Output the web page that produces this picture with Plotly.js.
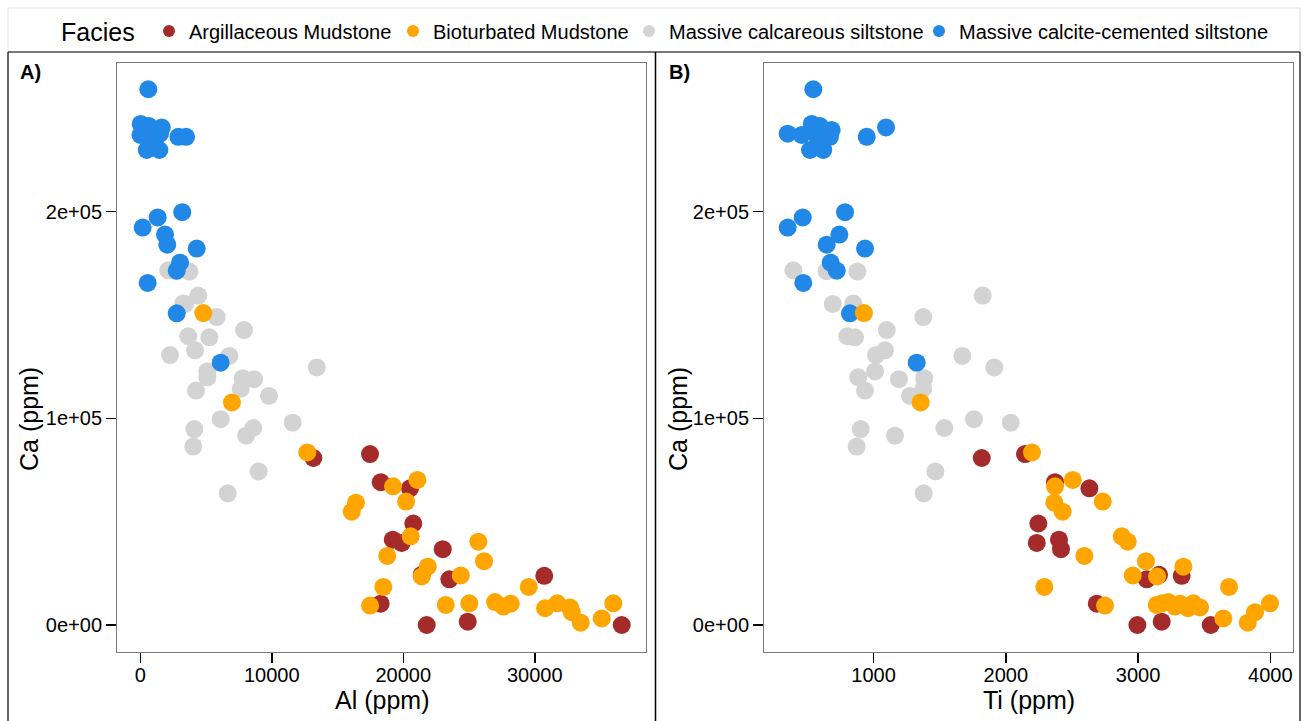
<!DOCTYPE html>
<html>
<head>
<meta charset="utf-8">
<script src="https://cdn.plot.ly/plotly-3.0.1.min.js"></script>
<style>
  html, body { margin: 0; padding: 0; background: #fff; }
  #chart { width: 1304px; height: 721px; }
</style>
</head>
<body>
<div id="chart"></div>
<script>
// Facies names and colours
const faciesNames = ["Argillaceous Mudstone", "Bioturbated Mudstone", "Massive calcareous siltstone", "Massive calcite-cemented siltstone"];
const faciesColors = ["#A52A2A", "#FFA500", "#D3D3D3", "#2188E8"];

// Argillaceous Mudstone
const argCa = [82700, 80800, 69100, 66100, 49100, 41300, 39700, 36700, 24300, 23800, 22100, 10300, 1600, 0, 0];
const argAl = [17470, 13160, 18290, 20510, 20760, 19200, 19880, 23000, 21400, 30720, 23500, 18280, 24900, 21780, 36610];
const argTi = [2145, 1818, 2372, 2632, 2246, 2402, 2234, 2417, 3159, 3330, 3066, 2688, 3179, 2995, 3550];

// Bioturbated Mudstone
const bioCa = [150900, 107700, 83500, 70200, 67100, 59700, 59200, 54800, 42900, 40300, 33400, 30900, 28200, 24000, 23500, 18400, 18400, 9400, 9700, 10500, 11100, 8900, 10300, 8100, 10500, 8500, 10500, 6200, 3200, 1100];
const bioAl = [4790, 6970, 12700, 21070, 19220, 20210, 16400, 16080, 20560, 25710, 18780, 26140, 21860, 24370, 21400, 18480, 29540, 17470, 23230, 25020, 26980, 27610, 28170, 30780, 31710, 32680, 35970, 32810, 35090, 33490];
const bioTi = [927, 1356, 2198, 2506, 2372, 2733, 2367, 2430, 2877, 2922, 2594, 3060, 3343, 2960, 3144, 2291, 3688, 2750, 3141, 3181, 3229, 3280, 3318, 3378, 3418, 3469, 3998, 3885, 3645, 3830];

// Massive calcareous siltstone
const calcCa = [171600, 171200, 171000, 159400, 155600, 155300, 149000, 142700, 139700, 139200, 132900, 130600, 130200, 124600, 122700, 119800, 119400, 118900, 114300, 113400, 110800, 99600, 97900, 95300, 94800, 91600, 86300, 74300, 63700];
const calcAl = [2130, 2720, 3730, 4410, 3270, 3400, 5810, 7890, 3650, 5250, 4160, 2260, 6770, 13420, 5100, 5100, 7790, 8650, 7640, 4240, 9790, 6110, 11590, 8590, 4110, 8040, 4030, 9000, 6650];
const calcTi = [393, 645, 877, 1825, 846, 691, 1376, 1099, 801, 859, 1086, 1018, 1671, 1913, 1011, 884, 1383, 1192, 1376, 935, 1275, 1759, 2037, 1535, 902, 1162, 872, 1467, 1379];

// Massive calcite-cemented siltstone
const cemCa = [259200, 242400, 241400, 240700, 239500, 237700, 237100, 236700, 236200, 236200, 229800, 229800, 199700, 197200, 192300, 188900, 184000, 182100, 175300, 171400, 165500, 150800, 126900];
const cemAl = [610, 30, 660, 1630, 890, 1500, 10, 740, 2890, 3480, 490, 1450, 3190, 1320, 180, 1880, 2050, 4290, 3020, 2770, 560, 2770, 6110];
const cemTi = [544, 532, 595, 1094, 683, 350, 456, 570, 670, 948, 519, 619, 784, 464, 350, 741, 645, 935, 675, 721, 468, 821, 1326];

// Tick labels
const caTickVals = [0, 100000, 200000];
const caTickText = ["0e+00", "1e+05", "2e+05"];
const alTickVals = [0, 10000, 20000, 30000];
const alTickText = ["0", "10000", "20000", "30000"];
const tiTickVals = [1000, 2000, 3000, 4000];
const tiTickText = ["1000", "2000", "3000", "4000"];

const W = 1304, H = 721;
const fx = v => v / W;          // pixel -> paper x
const fy = v => 1 - v / H;      // pixel -> paper y

const groups = [
  { ca: argCa,  al: argAl,  ti: argTi,  legend: "legend",  dotX: 170 },
  { ca: bioCa,  al: bioAl,  ti: bioTi,  legend: "legend2", dotX: 414 },
  { ca: calcCa, al: calcAl, ti: calcTi, legend: "legend3", dotX: 650 },
  { ca: cemCa,  al: cemAl,  ti: cemTi,  legend: "legend4", dotX: 940 }
];
// drawing order: calcareous, cemented, argillaceous, bioturbated
const drawOrder = [2, 3, 0, 1];

const traces = [];
drawOrder.forEach(i => {
  const g = groups[i];
  const marker = { color: faciesColors[i], size: 18, opacity: 1, line: { width: 0 } };
  traces.push({
    type: "scatter", mode: "markers", name: faciesNames[i],
    x: g.al, y: g.ca, xaxis: "x", yaxis: "y",
    marker: marker, legendgroup: faciesNames[i], legend: g.legend, showlegend: true,
    hoverinfo: "x+y+name"
  });
  traces.push({
    type: "scatter", mode: "markers", name: faciesNames[i],
    x: g.ti, y: g.ca, xaxis: "x2", yaxis: "y2",
    marker: marker, legendgroup: faciesNames[i], legend: g.legend, showlegend: false,
    hoverinfo: "x+y+name"
  });
});

const axisCommon = {
  showgrid: false, zeroline: false,
  showline: true, mirror: true, linecolor: "#7a7a7a", linewidth: 1,
  ticks: "outside", ticklen: 10, tickwidth: 1.5, tickcolor: "#000",
  tickfont: { size: 20, color: "#000" },
  fixedrange: true
};

const yDomain = [fy(651.7), fy(63.3)];
const yRange = [-12920, 271750];

const titleFont = { size: 25, color: "#000" };
const axisTitle = (text, x, y, angle) => ({
  text: text, xref: "paper", yref: "paper", x: x, y: y, xanchor: "center", yanchor: "middle",
  textangle: angle, showarrow: false, font: titleFont
});

// one legend box per facies so each entry sits at its own spot in the key strip
const legendBox = dotX => ({
  orientation: "h", x: fx(dotX - 21), xanchor: "left", y: fy(31), yanchor: "middle",
  font: { size: 20 }, itemsizing: "constant", bgcolor: "rgba(0,0,0,0)", borderwidth: 0, itemclick: false
});

const layout = {
  width: W, height: H,
  margin: { l: 0, r: 0, t: 0, b: 0 },
  paper_bgcolor: "#fff", plot_bgcolor: "#fff",
  font: { family: "Liberation Sans, Arial, Helvetica, sans-serif", color: "#000", size: 20 },
  showlegend: true,
  legend: legendBox(groups[0].dotX),
  legend2: legendBox(groups[1].dotX),
  legend3: legendBox(groups[2].dotX),
  legend4: legendBox(groups[3].dotX),
  xaxis: Object.assign({}, axisCommon, {
    domain: [fx(117), fx(646)], range: [-1772, 38456], anchor: "y",
    tickvals: alTickVals, ticktext: alTickText, ticklabelstandoff: -5
  }),
  yaxis: Object.assign({}, axisCommon, {
    domain: yDomain, range: yRange, anchor: "x",
    tickvals: caTickVals, ticktext: caTickText
  }),
  xaxis2: Object.assign({}, axisCommon, {
    domain: [fx(764), fx(1293)], range: [171, 4172], anchor: "y2",
    tickvals: tiTickVals, ticktext: tiTickText, ticklabelstandoff: -5
  }),
  yaxis2: Object.assign({}, axisCommon, {
    domain: yDomain, range: yRange, anchor: "x2",
    tickvals: caTickVals, ticktext: caTickText
  }),
  shapes: [
    // legend strip
    { type: "rect", xref: "paper", yref: "paper", x0: fx(8), x1: fx(1300), y0: fy(52), y1: fy(8),
      line: { color: "#e2e2e2", width: 1 }, fillcolor: "rgba(0,0,0,0)", layer: "below" },
    // panel frames
    { type: "line", xref: "paper", yref: "paper", x0: fx(8), x1: fx(1300), y0: fy(52), y1: fy(52), line: { color: "#000", width: 1.2 } },
    { type: "line", xref: "paper", yref: "paper", x0: fx(8), x1: fx(8), y0: fy(52), y1: 0, line: { color: "#000", width: 1.2 } },
    { type: "line", xref: "paper", yref: "paper", x0: fx(655.5), x1: fx(655.5), y0: fy(52), y1: 0, line: { color: "#000", width: 1.5 } },
    { type: "line", xref: "paper", yref: "paper", x0: fx(1300), x1: fx(1300), y0: fy(52), y1: 0, line: { color: "#000", width: 1.2 } }
  ],
  annotations: [
    { text: "Facies", xref: "paper", yref: "paper", x: fx(59), y: fy(32), xanchor: "left", yanchor: "middle",
      showarrow: false, font: { size: 25, color: "#000" } },
    { text: "<b>A)</b>", xref: "paper", yref: "paper", x: fx(18), y: fy(72), xanchor: "left", yanchor: "middle",
      showarrow: false, font: { size: 20, color: "#000" } },
    { text: "<b>B)</b>", xref: "paper", yref: "paper", x: fx(667), y: fy(72), xanchor: "left", yanchor: "middle",
      showarrow: false, font: { size: 20, color: "#000" } },
    axisTitle("Al (ppm)", fx(381.5), fy(700), 0),
    axisTitle("Ti (ppm)", fx(1029), fy(700), 0),
    axisTitle("Ca (ppm)", fx(29), fy(419), -90),
    axisTitle("Ca (ppm)", fx(678), fy(419), -90)
  ]
};

Plotly.newPlot("chart", traces, layout, { displayModeBar: false, staticPlot: true });
</script>
</body>
</html>
